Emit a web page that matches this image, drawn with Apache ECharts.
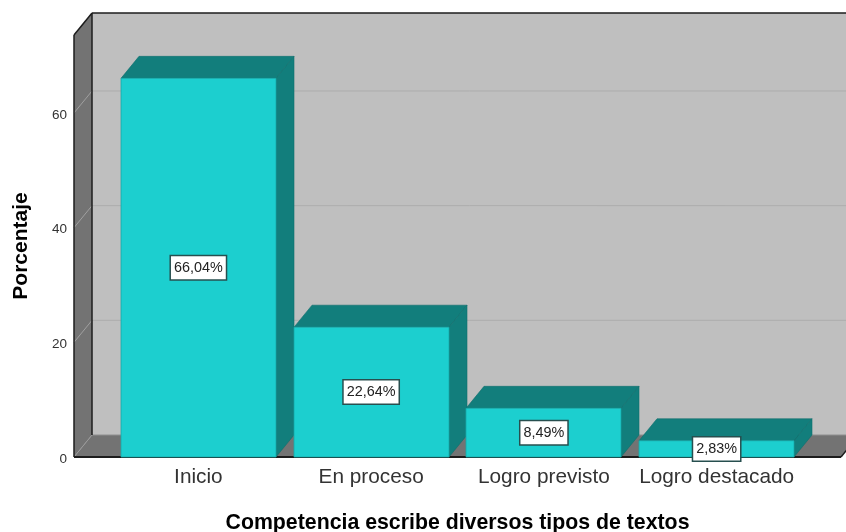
<!DOCTYPE html>
<html><head><meta charset="utf-8">
<style>html,body{margin:0;padding:0;background:#fff}#c{width:846px;height:532px}</style>
<script src="https://cdn.jsdelivr.net/npm/echarts@6/dist/echarts.min.js"></script>
</head><body><div id="c"></div>
<script>
const categories = ['Inicio', 'En proceso', 'Logro previsto', 'Logro destacado'];
const values = [66.04, 22.64, 8.49, 2.83];
const dataLabels = ['66,04%', '22,64%', '8,49%', '2,83%'];
const yTicks = [0, 20, 40, 60];
const yMax = 73.6;

const DX = 18, DY = -22, PAD = 38;
const font = '"Liberation Sans", Arial, sans-serif';
const chart = echarts.init(document.getElementById('c'), null, {renderer: 'canvas'});

function wallItem(params, api) {
  const cs = params.coordSys;
  const L = cs.x - PAD, R = cs.x + cs.width + PAD;
  const B = api.coord([0, 0])[1], T = api.coord([0, yMax])[1];
  const kids = [];
  const poly = (pts, fill) => kids.push({type: 'polygon', shape: {points: pts}, style: {fill: fill}});
  const line = (a, b, c, w) => kids.push({type: 'line', shape: {x1: a[0], y1: a[1], x2: b[0], y2: b[1]},
    style: {stroke: c, lineWidth: w}});
  poly([[L + DX, T + DY], [R + DX + 20, T + DY], [R + DX + 20, B + DY], [L + DX, B + DY]], '#bfbfbf');
  poly([[L, T], [L + DX, T + DY], [L + DX, B + DY], [L, B]], '#737373');
  poly([[L, B], [L + DX, B + DY], [R + DX + 20, B + DY], [R + DX, B + DY], [R, B]], '#737373');
  yTicks.slice(1).forEach(v => {
    const y = api.coord([0, v])[1];
    line([L + DX, y + DY], [R + DX + 20, y + DY], '#adadad', 1);
    line([L, y], [L + DX, y + DY], '#a0a0a0', 1);
  });
  line([L, B], [L + DX, B + DY], '#9a9a9a', 1);
  line([L + DX, B + DY], [R + DX + 20, B + DY], '#8f8f8f', 1);
  line([L, T], [L, B], '#1c1c1c', 1.5);
  line([L, T], [L + DX, T + DY], '#1c1c1c', 1.5);
  line([L + DX, T + DY], [L + DX, B + DY], '#1c1c1c', 1.5);
  line([L + DX, T + DY], [R + DX + 20, T + DY], '#1c1c1c', 1.5);
  line([L, B], [R, B], '#1c1c1c', 2);
  line([R, B], [R + DX, B + DY], '#1c1c1c', 1.5);
  return {type: 'group', children: kids};
}

function barItem(params, api) {
  const xc = api.coord([api.value(0), 0])[0];
  const B = api.coord([0, 0])[1];
  const Ty = api.coord([0, api.value(1)])[1];
  const w = 155, l = Math.round(xc - w / 2), r = l + w;
  return {type: 'group', children: [
    {type: 'polygon', shape: {points: [[l, Ty], [l + DX, Ty + DY], [r + DX, Ty + DY], [r, Ty]]},
      style: {fill: '#127e7c', stroke: '#0f6f6d', lineWidth: 0.6}},
    {type: 'polygon', shape: {points: [[r, Ty], [r + DX, Ty + DY], [r + DX, B + DY], [r, B]]},
      style: {fill: '#127e7c', stroke: '#0f6f6d', lineWidth: 0.6}},
    {type: 'rect', shape: {x: l, y: Ty, width: w, height: B - Ty},
      style: {fill: '#1ccfcf', stroke: '#18a8a8', lineWidth: 0.8}},
    {type: 'text', x: xc, y: (Ty + B) / 2, z2: 10,
      style: {text: dataLabels[params.dataIndex], fill: '#222', font: '14.4px ' + font,
        align: 'center', verticalAlign: 'middle', backgroundColor: '#fff',
        borderColor: '#274f4f', borderWidth: 1.5, padding: [5, 3, 4, 3]}}
  ]};
}

chart.setOption({
  animation: false,
  backgroundColor: '#fff',
  grid: {left: 112, width: 691, top: 35, bottom: 75, outerBoundsMode: 'none'},
  xAxis: {type: 'category', data: categories, boundaryGap: true,
    axisLine: {show: false}, axisTick: {show: false}, splitLine: {show: false},
    axisLabel: {color: '#333', fontFamily: font, fontSize: 20.8, margin: 10, interval: 0, hideOverlap: false},
    name: 'Competencia escribe diversos tipos de textos', nameLocation: 'middle', nameGap: 56,
    nameTextStyle: {color: '#000', fontFamily: font, fontSize: 21.3, fontWeight: 'bold'}},
  yAxis: {type: 'value', min: 0, max: yMax, interval: 20, offset: PAD,
    axisLine: {show: false}, axisTick: {show: false}, splitLine: {show: false},
    axisLabel: {margin: 7, showMaxLabel: false, formatter: v => '{t|' + v + '}',
      rich: {t: {color: '#333', fontFamily: font, fontSize: 13.5, padding: [4, 0, 0, 0]}}},
    name: 'Porcentaje', nameLocation: 'middle', nameGap: 42, nameRotate: 90,
    nameTextStyle: {color: '#000', fontFamily: font, fontSize: 21, fontWeight: 'bold'}},
  series: [
    {type: 'custom', name: 'walls', clip: false, silent: true, z: 1, renderItem: wallItem,
      data: [[0, 0]], encode: {x: 0, y: 1}},
    {type: 'custom', name: 'Porcentaje', clip: false, silent: true, z: 2, renderItem: barItem,
      data: values.map((v, i) => [i, v]), encode: {x: 0, y: 1}}
  ]
});
</script></body></html>
